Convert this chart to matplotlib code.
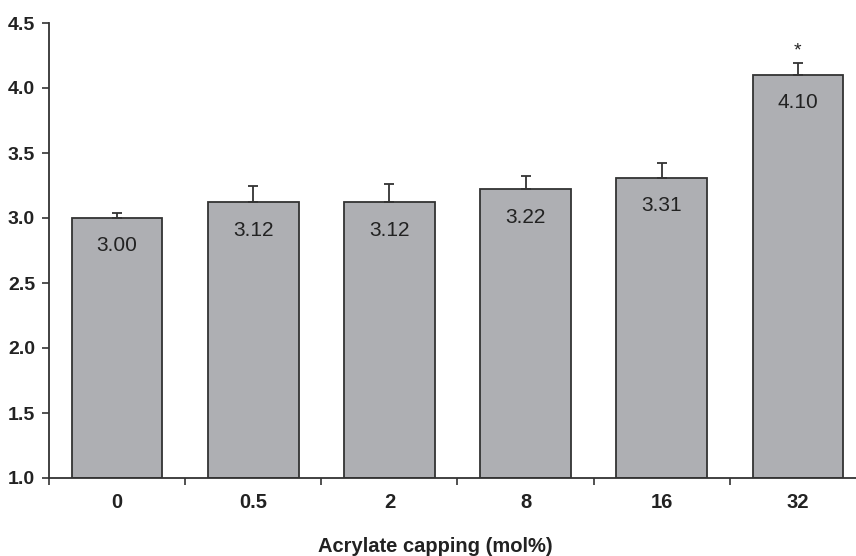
import numpy as np
import matplotlib
matplotlib.use("Agg")
import matplotlib.pyplot as plt

plt.rcParams['font.family'] = ['Liberation Sans', 'DejaVu Sans']

categories = ["0", "0.5", "2", "8", "16", "32"]
values = [3.00, 3.12, 3.12, 3.22, 3.31, 4.10]
errors = [0.04, 0.13, 0.14, 0.10, 0.11, 0.09]
value_labels = ["3.00", "3.12", "3.12", "3.22", "3.31", "4.10"]
significant = [False, False, False, False, False, True]
yticks = [1.0, 1.5, 2.0, 2.5, 3.0, 3.5, 4.0, 4.5]

fig = plt.figure(figsize=(8.56, 5.56), dpi=100)
# axes runs a bit past the right edge, as in the original
ax = fig.add_axes([49/856, 78/556, 817/856, 455/556])

x = np.arange(len(categories))
bar_color = "#aeafb3"
edge = "#333333"
ax.bar(x, np.array(values) - 1.0, bottom=1.0, width=0.667, color=bar_color,
       edgecolor=edge, linewidth=1.3, zorder=2)
ax.errorbar(x, values, yerr=[np.zeros(len(errors)), errors], fmt="none",
            ecolor=edge, elinewidth=1.3, capsize=3.5, capthick=1.3, zorder=3)

for xi, v, lab in zip(x, values, value_labels):
    ax.annotate(lab, (xi, v), xytext=(0, -20), textcoords="offset points",
                ha="center", va="center", fontsize=15, color="#222222")

for xi, v, e, s in zip(x, values, errors, significant):
    if s:
        ax.annotate("*", (xi, v + e), xytext=(0, 3), textcoords="offset points",
                    ha="center", va="bottom", fontsize=14, color="#222222")

ax.set_xlim(-0.5, len(categories) - 0.5)
ax.set_ylim(1.0, 4.5)
ax.set_yticks(yticks)
ax.set_yticklabels([f"{t:.1f}" for t in yticks], fontsize=14, fontweight="bold",
                   color="#222222")

# category labels without ticks, small ticks at the slot boundaries
ax.set_xticks(x)
ax.set_xticklabels(categories, fontsize=14.5, fontweight="bold", color="#222222")
ax.tick_params(axis="x", length=0, pad=11)
ax.set_xticks(np.arange(-0.5, len(categories)), minor=True)
ax.tick_params(axis="x", which="minor", length=5, width=1.2, direction="out",
               color=edge)
ax.tick_params(axis="y", length=5, width=1.2, direction="out", color=edge, pad=5)

fig.text(435.5 / 856, 10 / 556, "Acrylate capping (mol%)", fontsize=14.5,
         fontweight="bold", color="#222222", ha="center", va="center")

for side in ["top", "right"]:
    ax.spines[side].set_visible(False)
for side in ["left", "bottom"]:
    ax.spines[side].set_color(edge)
    ax.spines[side].set_linewidth(1.3)

fig.savefig("out.png", dpi=100)
